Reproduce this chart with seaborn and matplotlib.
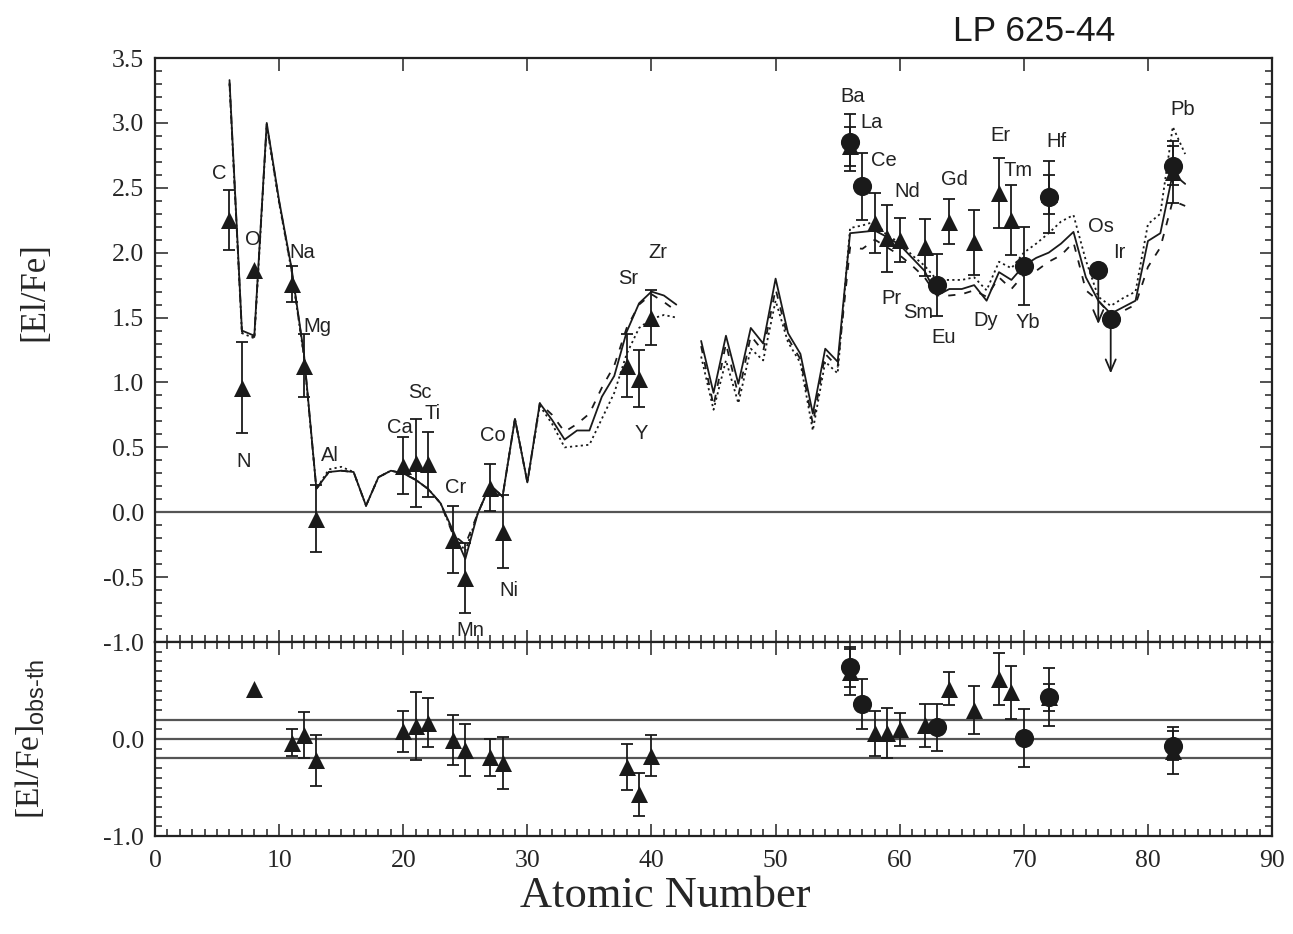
import numpy as np
import pandas as pd
import matplotlib
matplotlib.use("Agg")
import matplotlib.pyplot as plt
import seaborn as sns
from matplotlib.ticker import MultipleLocator, FixedLocator, FixedFormatter

# ---------------- data ----------------
# model curves (two segments, Tc missing)
model_Z_a = list(range(6, 43))
solid_a = [3.33, 1.40, 1.36, 3.00, 2.40, 1.88, 1.22, 0.18, 0.31, 0.32, 0.31, 0.05,
           0.27, 0.32, 0.30, 0.25, 0.18, 0.07, -0.14, -0.36, -0.01, 0.21, 0.12, 0.72,
           0.23, 0.84, 0.71, 0.56, 0.63, 0.63, 0.89, 1.05, 1.39, 1.61, 1.70, 1.67, 1.60]
dashed_a = [3.31, 1.39, 1.35, 2.99, 2.39, 1.87, 1.21, 0.18, 0.31, 0.32, 0.31, 0.05,
            0.27, 0.32, 0.30, 0.25, 0.18, 0.07, -0.17, -0.25, -0.01, 0.21, 0.12, 0.72,
            0.23, 0.84, 0.75, 0.62, 0.68, 0.76, 0.96, 1.13, 1.42, 1.60, 1.68, 1.62, 1.55]
dotted_a = [3.30, 1.38, 1.34, 2.98, 2.38, 1.86, 1.20, 0.18, 0.33, 0.35, 0.31, 0.05,
            0.27, 0.32, 0.30, 0.25, 0.18, 0.07, -0.16, -0.30, -0.01, 0.21, 0.12, 0.72,
            0.23, 0.82, 0.68, 0.50, 0.51, 0.52, 0.72, 0.92, 1.22, 1.42, 1.49, 1.52, 1.50]

model_Z_b = list(range(44, 84))
solid_b = [1.32, 0.92, 1.36, 0.99, 1.42, 1.30, 1.80, 1.38, 1.22, 0.76, 1.26, 1.16,
           2.15, 2.16, 2.17, 2.12, 2.06, 1.96, 1.86, 1.67, 1.72, 1.72, 1.75, 1.63,
           1.85, 1.79, 1.90, 1.96, 2.00, 2.07, 2.16, 1.81, 1.63, 1.53, 1.58, 1.63,
           2.09, 2.15, 2.61, 2.53]
dashed_b = [1.28, 0.82, 1.30, 0.90, 1.36, 1.24, 1.72, 1.34, 1.18, 0.68, 1.22, 1.12,
            2.04, 2.03, 2.10, 2.04, 1.98, 1.90, 1.81, 1.67, 1.67, 1.68, 1.71, 1.66,
            1.81, 1.72, 1.83, 1.86, 1.93, 1.98, 2.08, 1.71, 1.63, 1.52, 1.55, 1.60,
            1.89, 2.04, 2.40, 2.36]
dotted_b = [1.20, 0.79, 1.17, 0.84, 1.26, 1.17, 1.63, 1.31, 1.15, 0.63, 1.16, 1.07,
            2.19, 2.21, 2.24, 2.13, 2.08, 1.98, 1.90, 1.79, 1.79, 1.79, 1.81, 1.71,
            1.93, 1.88, 2.00, 2.07, 2.15, 2.24, 2.29, 1.94, 1.66, 1.59, 1.65, 1.70,
            2.22, 2.30, 2.97, 2.76]

# observed abundances, triangles
tri_el = ["C", "N", "O", "Na", "Mg", "Al", "Ca", "Sc", "Ti", "Cr", "Mn", "Co", "Ni",
          "Sr", "Y", "Zr", "Ba", "Ce", "Pr", "Nd", "Sm", "Gd", "Dy", "Er", "Tm", "Hf", "Pb"]
tri_Z = [6, 7, 8, 11, 12, 13, 20, 21, 22, 24, 25, 27, 28,
         38, 39, 40, 56, 58, 59, 60, 62, 64, 66, 68, 69, 72, 82]
tri_val = [2.25, 0.96, 1.87, 1.76, 1.13, -0.05, 0.36, 0.38, 0.37, -0.21, -0.51, 0.19, -0.15,
           1.13, 1.03, 1.50, 2.82, 2.23, 2.11, 2.10, 2.04, 2.24, 2.08, 2.46, 2.25, 2.45, 2.62]
tri_err = [0.23, 0.35, np.nan, 0.14, 0.24, 0.26, 0.22, 0.34, 0.25, 0.26, 0.27, 0.18, 0.28,
           0.24, 0.22, 0.21, 0.15, 0.23, 0.26, 0.17, 0.22, 0.17, 0.25, 0.27, 0.27, 0.15, 0.24]

# observed abundances, circles
cir_el = ["Ba", "La", "Eu", "Yb", "Hf", "Pb"]
cir_Z = [56, 57, 63, 70, 72, 82]
cir_val = [2.85, 2.51, 1.75, 1.90, 2.43, 2.67]
cir_err = [0.22, 0.26, 0.24, 0.30, 0.28, 0.15]

# upper limits
lim_el = ["Os", "Ir"]
lim_Z = [76, 77]
lim_val = [1.87, 1.49]

# residuals obs - theory
res_tri_Z = [8, 11, 12, 13, 20, 21, 22, 24, 25, 27, 28, 38, 39, 40,
             56, 58, 59, 60, 62, 64, 66, 68, 69, 72, 82]
res_tri_val = [0.52, -0.04, 0.04, -0.22, 0.08, 0.13, 0.17, -0.01, -0.11, -0.19, -0.25,
               -0.29, -0.57, -0.17, 0.69, 0.06, 0.06, 0.10, 0.14, 0.52, 0.30, 0.62,
               0.48, 0.43, -0.12]
res_tri_err = [np.nan, 0.14, 0.24, 0.26, 0.21, 0.35, 0.25, 0.26, 0.27, 0.19, 0.27,
               0.24, 0.22, 0.21, 0.24, 0.23, 0.26, 0.17, 0.22, 0.17, 0.25, 0.27,
               0.27, 0.14, 0.24]
res_cir_Z = [56, 57, 63, 70, 72, 82]
res_cir_val = [0.745, 0.36, 0.12, 0.01, 0.43, -0.07]
res_cir_err = [0.205, 0.26, 0.24, 0.30, 0.30, 0.15]

# element label placement (data coords)
label_text = ["C", "N", "O", "Na", "Mg", "Al", "Ca", "Sc", "Ti", "Cr", "Mn", "Co", "Ni",
              "Sr", "Y", "Zr", "Ba", "La", "Ce", "Pr", "Nd", "Sm", "Eu", "Gd", "Dy",
              "Er", "Tm", "Yb", "Hf", "Os", "Ir", "Pb"]
label_x = [5.2, 7.1, 7.9, 11.9, 13.1, 14.1, 19.7, 21.35, 22.4, 24.2, 25.4, 27.2, 28.5,
           38.1, 39.2, 40.5, 56.2, 57.7, 58.7, 59.3, 60.6, 61.5, 63.5, 64.4, 66.9,
           68.1, 69.5, 70.3, 72.6, 76.2, 77.7, 82.8]
label_y = [2.61, 0.39, 2.10, 2.00, 1.43, 0.44, 0.65, 0.92, 0.76, 0.19, -0.91, 0.59, -0.60,
           1.80, 0.61, 2.00, 3.20, 3.00, 2.71, 1.65, 2.47, 1.54, 1.35, 2.56, 1.48,
           2.90, 2.63, 1.46, 2.86, 2.20, 2.00, 3.10]

x_ticks = [0, 10, 20, 30, 40, 50, 60, 70, 80, 90]
top_y_ticks = [-0.5, 0.0, 0.5, 1.0, 1.5, 2.0, 2.5, 3.0, 3.5]
bot_y_ticks = [-1.0, 0.0, 1.0]
bot_y_ticklabels = ["-1.0", "0.0", "-1.0"]
band_levels = [0.2, 0.0, -0.2]

# ---------------- style ----------------
sns.set_theme(style="ticks")
plt.rcParams["font.family"] = ["Liberation Serif", "DejaVu Serif"]
plt.rcParams["mathtext.fontset"] = "custom"
plt.rcParams["mathtext.rm"] = "Liberation Sans"
INK = "#1a1a1a"
SANS = ["Liberation Sans", "DejaVu Sans"]

fig = plt.figure(figsize=(12.93, 9.34), dpi=100)
ax1 = fig.add_axes([0.1199, 0.3126, 0.8639, 0.6253])
ax2 = fig.add_axes([0.1199, 0.1049, 0.8639, 0.2077])

# ---------------- model lines ----------------
rows = []
for model, ya, yb in [("solid", solid_a, solid_b), ("dashed", dashed_a, dashed_b),
                      ("dotted", dotted_a, dotted_b)]:
    for z, v in zip(model_Z_a, ya):
        rows.append((z, v, model, model + "_a"))
    for z, v in zip(model_Z_b, yb):
        rows.append((z, v, model, model + "_b"))
mdf = pd.DataFrame(rows, columns=["Z", "val", "model", "seg"])

sns.lineplot(data=mdf, x="Z", y="val", style="model", units="seg", estimator=None,
             dashes={"solid": "", "dashed": (4, 5), "dotted": (1.2, 1.8)},
             color=INK, lw=1.3, legend=False, ax=ax1, sort=False)

ax1.axhline(0.0, color="#555555", lw=1.6, zorder=1)

# ---------------- observations (top) ----------------
tdf = pd.DataFrame({"Z": tri_Z, "val": tri_val, "err": tri_err})
cdf = pd.DataFrame({"Z": cir_Z, "val": cir_val, "err": cir_err})
ldf = pd.DataFrame({"Z": lim_Z, "val": lim_val})

eb_kw = dict(fmt="none", ecolor=INK, elinewidth=1.3, capsize=4.5, capthick=1.3, zorder=3)
ax1.errorbar(tdf["Z"], tdf["val"], yerr=tdf["err"], **eb_kw)
ax1.errorbar(cdf["Z"], cdf["val"], yerr=cdf["err"], **eb_kw)
sns.scatterplot(data=tdf, x="Z", y="val", marker="^", s=150, color=INK,
                edgecolor=INK, linewidth=0, ax=ax1, zorder=4, legend=False)
sns.scatterplot(data=pd.concat([cdf, ldf]), x="Z", y="val", marker="o", s=190,
                color=INK, edgecolor=INK, linewidth=0, ax=ax1, zorder=4, legend=False)
for z, v in zip(lim_Z, lim_val):
    ax1.annotate("", xy=(z, v - 0.42), xytext=(z, v),
                 arrowprops=dict(arrowstyle="->,head_length=0.7,head_width=0.3",
                                 lw=1.3, color=INK, shrinkA=0, shrinkB=0), zorder=3)

for t, x, y in zip(label_text, label_x, label_y):
    ax1.text(x, y, t, family=SANS, fontsize=14.5, color="#222222",
             ha="center", va="center")

# ---------------- residuals (bottom) ----------------
rtdf = pd.DataFrame({"Z": res_tri_Z, "val": res_tri_val, "err": res_tri_err})
rcdf = pd.DataFrame({"Z": res_cir_Z, "val": res_cir_val, "err": res_cir_err})
for lvl in band_levels:
    ax2.axhline(lvl, color="#555555", lw=1.6, zorder=1)
ax2.errorbar(rtdf["Z"], rtdf["val"], yerr=rtdf["err"], **eb_kw)
ax2.errorbar(rcdf["Z"], rcdf["val"], yerr=rcdf["err"], **eb_kw)
sns.scatterplot(data=rtdf, x="Z", y="val", marker="^", s=150, color=INK,
                linewidth=0, ax=ax2, zorder=4, legend=False)
sns.scatterplot(data=rcdf, x="Z", y="val", marker="o", s=190, color=INK,
                linewidth=0, ax=ax2, zorder=4, legend=False)

# ---------------- axes ----------------
for ax in (ax1, ax2):
    ax.set_xlim(0, 90)
    ax.xaxis.set_major_locator(FixedLocator(x_ticks))
    ax.xaxis.set_minor_locator(MultipleLocator(1))
    ax.yaxis.set_minor_locator(MultipleLocator(0.1))
    ax.tick_params(which="both", direction="in", top=True, right=True,
                   color="#333333", width=1.2)
    ax.tick_params(which="major", length=9, labelsize=18.5, pad=8)
    ax.tick_params(which="minor", length=5)
    for s in ax.spines.values():
        s.set_linewidth(1.6)
        s.set_color("#222222")
    ax.set_xlabel("")
    ax.set_ylabel("")

ax1.set_ylim(-1.0, 3.5)
ax1.yaxis.set_major_locator(FixedLocator(top_y_ticks))
ax1.set_yticklabels([f"{v:.1f}" for v in top_y_ticks])
ax1.tick_params(axis="x", labelbottom=False)
ax1.tick_params(axis="x", which="minor", top=False)

ax2.set_ylim(-1.0, 1.0)
ax2.yaxis.set_major_locator(FixedLocator(bot_y_ticks))
ax2.yaxis.set_major_formatter(FixedFormatter(bot_y_ticklabels))
ax2.set_xticklabels([str(v) for v in x_ticks])
ax2.tick_params(axis="x", which="major", pad=10)

ax1.set_ylabel("[El/Fe]", fontsize=25)
ax1.yaxis.set_label_coords(-0.093, 0.60)
ax2.set_ylabel(r"[El/Fe]$_{\mathrm{obs\text{-}th}}$", fontsize=24)
ax2.yaxis.set_label_coords(-0.097, 0.5)
ax2.set_xlabel("Atomic Number", fontsize=32)
ax2.xaxis.set_label_coords(0.457, -0.205)

fig.text(0.80, 0.966, "LP 625-44", family=SANS, fontsize=25.5, color="#1a1a1a",
         ha="center", va="center")

fig.savefig("out.png", dpi=100)
